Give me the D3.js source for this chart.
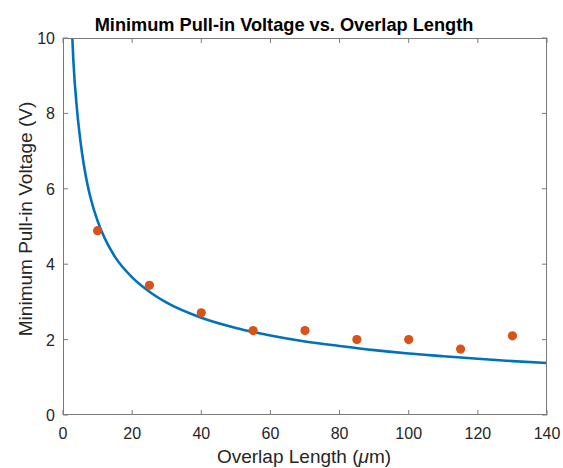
<!DOCTYPE html>
<html>
<head>
<meta charset="utf-8">
<script src="https://cdn.jsdelivr.net/npm/d3@7"></script>
<style>
  body { margin: 0; background: #fff; }
  text { font-family: "Liberation Sans", Arial, sans-serif; fill: #262626; }
</style>
</head>
<body>
<svg id="chart" width="563" height="468"></svg>
<script>
// fitted curve
var curveL = [2.7, 3, 4, 5, 6, 7, 8, 10, 12, 15, 20, 25, 30, 40, 50, 60, 70, 80, 90, 100, 110, 120, 130, 140];
var curveV = [10.0, 9.4, 8.15, 7.3, 6.65, 6.15, 5.75, 5.15, 4.7, 4.2, 3.65, 3.27, 2.98, 2.58, 2.31, 2.11, 1.95, 1.83, 1.72, 1.63, 1.56, 1.49, 1.43, 1.38];

// measured points
var measL = [10, 25, 40, 55, 70, 85, 100, 115, 130];
var measV = [4.89, 3.44, 2.71, 2.24, 2.24, 2.0, 2.0, 1.75, 2.1];

var xTicks = [0, 20, 40, 60, 80, 100, 120, 140];
var yTicks = [0, 2, 4, 6, 8, 10];

var svg = d3.select("#chart");
var pLeft = 63, pRight = 547, pTop = 38, pBottom = 415;
var axisColor = "#7a7a7a";

var x = d3.scaleLinear().domain([0, 140]).range([pLeft, pRight]);
var y = d3.scaleLinear().domain([0, 10]).range([pBottom, pTop]);

svg.append("defs").append("clipPath").attr("id", "clip")
  .append("rect")
  .attr("x", pLeft).attr("y", pTop)
  .attr("width", pRight - pLeft).attr("height", pBottom - pTop);

// ticks, inside, on all four sides
var tl = 5;
var g = svg.append("g").attr("stroke", axisColor).attr("stroke-width", 1);
xTicks.forEach(function (t) {
  g.append("line").attr("x1", x(t)).attr("x2", x(t)).attr("y1", pBottom).attr("y2", pBottom - tl);
  g.append("line").attr("x1", x(t)).attr("x2", x(t)).attr("y1", pTop).attr("y2", pTop + tl);
});
yTicks.forEach(function (t) {
  g.append("line").attr("y1", y(t)).attr("y2", y(t)).attr("x1", pLeft).attr("x2", pLeft + tl);
  g.append("line").attr("y1", y(t)).attr("y2", y(t)).attr("x1", pRight).attr("x2", pRight - tl);
});

var pairs = curveL.map(function (d, i) { return [d, curveV[i]]; });
var line = d3.line()
  .x(function (d) { return x(d[0]); })
  .y(function (d) { return y(d[1]); })
  .curve(d3.curveMonotoneX);

svg.append("path")
  .attr("clip-path", "url(#clip)")
  .attr("d", line(pairs))
  .attr("fill", "none")
  .attr("stroke", "#0072BD")
  .attr("stroke-width", 2.6);

svg.selectAll("circle.pt")
  .data(measL)
  .enter()
  .append("circle")
  .attr("class", "pt")
  .attr("cx", function (d) { return x(d); })
  .attr("cy", function (d, i) { return y(measV[i]); })
  .attr("r", 4.6)
  .attr("fill", "#D95319");

// frame
svg.append("rect")
  .attr("x", pLeft + 0.5).attr("y", pTop + 0.5)
  .attr("width", pRight - pLeft - 1).attr("height", pBottom - pTop - 1)
  .attr("fill", "none").attr("stroke", axisColor).attr("stroke-width", 1);

// tick labels
svg.selectAll("text.xt")
  .data(xTicks)
  .enter()
  .append("text")
  .attr("class", "xt")
  .attr("x", function (d) { return x(d); })
  .attr("y", pBottom + 24)
  .attr("text-anchor", "middle")
  .style("font-size", "16px")
  .text(function (d) { return d; });

svg.selectAll("text.yt")
  .data(yTicks)
  .enter()
  .append("text")
  .attr("class", "yt")
  .attr("x", pLeft - 8)
  .attr("y", function (d) { return y(d) + 6; })
  .attr("text-anchor", "end")
  .style("font-size", "16px")
  .text(function (d) { return d; });

// title
svg.append("text")
  .attr("x", 284)
  .attr("y", 31)
  .attr("text-anchor", "middle")
  .style("font-size", "18.2px")
  .style("font-weight", "bold")
  .style("fill", "#000")
  .text("Minimum Pull-in Voltage vs. Overlap Length");

// axis labels
var xl = svg.append("text")
  .attr("x", 304)
  .attr("y", 463)
  .attr("text-anchor", "middle")
  .style("font-size", "19px");
xl.append("tspan").text("Overlap Length (");
xl.append("tspan").style("font-style", "italic").text("\u03bc");
xl.append("tspan").text("m)");

svg.append("text")
  .attr("transform", "translate(32,219) rotate(-90)")
  .attr("text-anchor", "middle")
  .style("font-size", "19px")
  .text("Minimum Pull-in Voltage (V)");
</script>
</body>
</html>
